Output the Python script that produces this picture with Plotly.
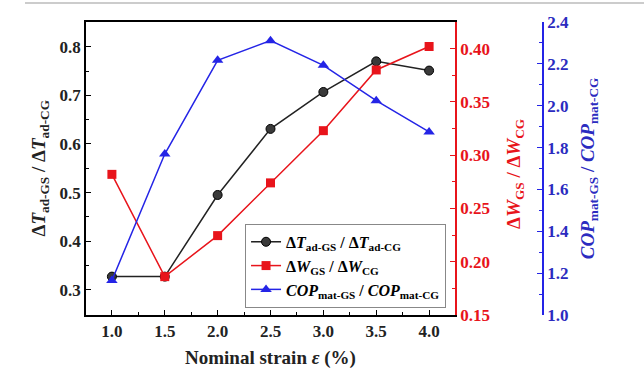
import plotly.graph_objects as go

strain = [1.0, 1.5, 2.0, 2.5, 3.0, 3.5, 4.0]
dT_ratio = [0.327, 0.327, 0.495, 0.631, 0.707, 0.770, 0.751]
dW_ratio = [0.282, 0.186, 0.2245, 0.274, 0.323, 0.380, 0.402]
cop_ratio = [1.165, 1.769, 2.217, 2.311, 2.193, 2.024, 1.875]

x_ticks = [1.0, 1.5, 2.0, 2.5, 3.0, 3.5, 4.0]
y1_ticks = [0.3, 0.4, 0.5, 0.6, 0.7, 0.8]
y2_ticks = [0.15, 0.20, 0.25, 0.30, 0.35, 0.40]
y3_ticks = [1.0, 1.2, 1.4, 1.6, 1.8, 2.0, 2.2, 2.4]

RED = "#e8141b"
BLUE = "#2424e6"
BLUE_TXT = "#2b2bc0"
FONT = "Liberation Serif"

fig = go.Figure()
fig.add_trace(go.Scatter(
    x=strain, y=dT_ratio, mode="lines+markers", yaxis="y",
    name="<b>Δ<i>T</i><sub>ad-GS</sub> / Δ<i>T</i><sub>ad-CG</sub></b>",
    line=dict(color="#222222", width=1.5),
    marker=dict(symbol="circle", size=9, color="#3a3a3a", line=dict(color="black", width=1)),
))
fig.add_trace(go.Scatter(
    x=strain, y=dW_ratio, mode="lines+markers", yaxis="y2",
    name="<b>Δ<i>W</i><sub>GS</sub> / Δ<i>W</i><sub>CG</sub></b>",
    line=dict(color=RED, width=1.5),
    marker=dict(symbol="square", size=9, color=RED),
))
fig.add_trace(go.Scatter(
    x=strain, y=cop_ratio, mode="lines+markers", yaxis="y3",
    name="<b><i>COP</i><sub>mat-GS</sub> / <i>COP</i><sub>mat-CG</sub></b>",
    line=dict(color=BLUE, width=1.5),
    marker=dict(symbol="triangle-up", size=10, color=BLUE),
))

xdom_end = 369 / 457

fig.update_layout(
    width=644, height=391,
    margin=dict(l=86, r=101, t=22, b=76),
    paper_bgcolor="white", plot_bgcolor="white",
    font=dict(family=FONT, size=16, color="black"),
    showlegend=True,
    legend=dict(
        x=0.348, y=0.311, xanchor="left", yanchor="top",
        bgcolor="white", bordercolor="#888888", borderwidth=1,
        font=dict(family=FONT, size=16),
        tracegroupgap=0, itemwidth=30,
    ),
    xaxis=dict(
        domain=[0, xdom_end], range=[0.755, 4.245],
        tickvals=x_ticks, ticktext=[f"<b>{v:.1f}</b>" for v in x_ticks],
        ticks="inside", ticklen=5, tickcolor="black",
        minor=dict(ticks="inside", dtick=0.25, ticklen=3, tickcolor="black"),
        showline=True, linecolor="black", linewidth=1.5, mirror=True,
        showgrid=False, zeroline=False,
        tickfont=dict(family=FONT, size=17, color="#222222"),
        title=dict(text="<b>Nominal strain <i>ε</i> (%)</b>", standoff=11,
                   font=dict(family=FONT, size=19, color="#222222")),
    ),
    yaxis=dict(
        range=[0.248, 0.851],
        tickvals=y1_ticks, ticktext=[f"<b>{v:.1f}</b>" for v in y1_ticks],
        ticks="inside", ticklen=5, tickcolor="black",
        minor=dict(ticks="inside", dtick=0.05, ticklen=3, tickcolor="black"),
        showline=True, linecolor="black", linewidth=1.5,
        showgrid=False, zeroline=False,
        tickfont=dict(family=FONT, size=17, color="#222222"),
    ),
    yaxis2=dict(
        overlaying="y", side="right", anchor="x",
        range=[0.15, 0.425],
        tickvals=y2_ticks, ticktext=[f"<b>{v:.2f}</b>" for v in y2_ticks],
        ticks="inside", ticklen=5, tickcolor=RED,
        minor=dict(ticks="inside", dtick=0.025, ticklen=3, tickcolor=RED),
        showline=True, linecolor=RED, linewidth=1.5,
        showgrid=False, zeroline=False,
        tickfont=dict(family=FONT, size=17, color=RED),
    ),
    yaxis3=dict(
        overlaying="y", side="right", anchor="free", position=1.0,
        range=[1.0, 2.4],
        tickvals=y3_ticks, ticktext=[f"<b>{v:.1f}</b>" for v in y3_ticks],
        ticks="inside", ticklen=5, tickcolor=BLUE,
        minor=dict(ticks="inside", dtick=0.1, ticklen=3, tickcolor=BLUE),
        showline=True, linecolor=BLUE, linewidth=1.5,
        showgrid=False, zeroline=False,
        tickfont=dict(family=FONT, size=17, color=BLUE_TXT),
    ),
    annotations=[
        dict(text="<b>Δ<i>T</i><sub>ad-GS</sub> / Δ<i>T</i><sub>ad-CG</sub></b>",
             xref="paper", yref="paper", x=-0.1007, y=0.5, textangle=-90,
             showarrow=False, xanchor="center", yanchor="middle",
             font=dict(family=FONT, size=19, color="#222222")),
        dict(text="<b>Δ<i>W</i><sub>GS</sub> / Δ<i>W</i><sub>CG</sub></b>",
             xref="paper", yref="paper", x=0.94, y=0.48, textangle=-90,
             showarrow=False, xanchor="center", yanchor="middle",
             font=dict(family=FONT, size=19, color=RED)),
        dict(text="<b><i>COP</i><sub>mat-GS</sub> / <i>COP</i><sub>mat-CG</sub></b>",
             xref="paper", yref="paper", x=1.10, y=0.5, textangle=-90,
             showarrow=False, xanchor="center", yanchor="middle",
             font=dict(family=FONT, size=19, color=BLUE_TXT)),
    ],
    shapes=[
        dict(type="line", xref="paper", yref="paper",
             x0=-0.1335, x1=1.221, y0=1.0648, y1=1.0648,
             line=dict(color="#bbbbbb", width=1.5)),
    ],
)

fig.write_html("out.html", config={"displayModeBar": False},
               post_script="document.body.style.margin='0';")
